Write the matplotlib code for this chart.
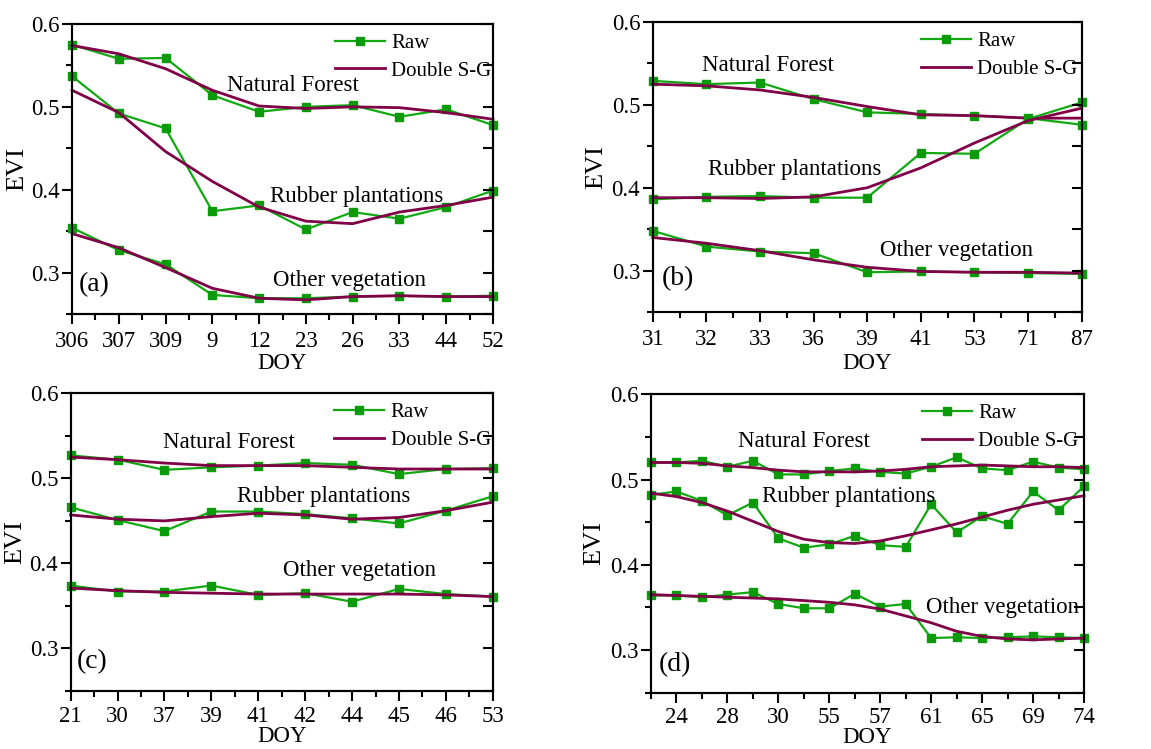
#!/usr/bin/env python
#------------------------------

import numpy as np
import matplotlib
matplotlib.use('Agg')
import matplotlib.pyplot as plt
from matplotlib.ticker import MultipleLocator, FixedLocator, FormatStrFormatter

#------------------------------
# panel (a)
doy_a = ['306', '307', '309', '9', '12', '23', '26', '33', '44', '52']
nf_raw_a = [0.575, 0.558, 0.559, 0.514, 0.494, 0.500, 0.502, 0.488, 0.497, 0.478]
nf_sg_a  = [0.574, 0.564, 0.546, 0.520, 0.501, 0.498, 0.500, 0.499, 0.493, 0.485]
rp_raw_a = [0.537, 0.492, 0.474, 0.374, 0.381, 0.352, 0.373, 0.365, 0.379, 0.399]
rp_sg_a  = [0.520, 0.493, 0.446, 0.410, 0.379, 0.362, 0.359, 0.373, 0.381, 0.391]
ov_raw_a = [0.354, 0.327, 0.310, 0.273, 0.269, 0.269, 0.271, 0.272, 0.271, 0.272]
ov_sg_a  = [0.347, 0.330, 0.306, 0.281, 0.269, 0.267, 0.271, 0.272, 0.271, 0.271]

# panel (b)
doy_b = ['31', '32', '33', '36', '39', '41', '53', '71', '87']
nf_raw_b = [0.529, 0.525, 0.527, 0.507, 0.491, 0.489, 0.487, 0.484, 0.476]
nf_sg_b  = [0.525, 0.523, 0.518, 0.509, 0.498, 0.488, 0.487, 0.484, 0.484]
rp_raw_b = [0.386, 0.389, 0.390, 0.388, 0.388, 0.442, 0.441, 0.483, 0.503]
rp_sg_b  = [0.388, 0.388, 0.387, 0.389, 0.400, 0.424, 0.454, 0.481, 0.496]
ov_raw_b = [0.348, 0.329, 0.323, 0.321, 0.298, 0.299, 0.298, 0.297, 0.296]
ov_sg_b  = [0.340, 0.333, 0.324, 0.313, 0.304, 0.299, 0.298, 0.298, 0.297]

# panel (c)
doy_c = ['21', '30', '37', '39', '41', '42', '44', '45', '46', '53']
nf_raw_c = [0.527, 0.522, 0.510, 0.513, 0.515, 0.518, 0.516, 0.505, 0.511, 0.512]
nf_sg_c  = [0.525, 0.522, 0.518, 0.515, 0.515, 0.515, 0.513, 0.511, 0.511, 0.511]
rp_raw_c = [0.466, 0.451, 0.438, 0.461, 0.461, 0.458, 0.453, 0.447, 0.462, 0.479]
rp_sg_c  = [0.457, 0.452, 0.450, 0.455, 0.459, 0.457, 0.452, 0.454, 0.462, 0.472]
ov_raw_c = [0.374, 0.367, 0.367, 0.374, 0.363, 0.365, 0.355, 0.370, 0.364, 0.361]
ov_sg_c  = [0.371, 0.368, 0.366, 0.365, 0.364, 0.364, 0.364, 0.364, 0.363, 0.361]

# panel (d): 18 acquisitions, every second one labelled
doy_d = ['', '24', '', '28', '', '30', '', '55', '', '57', '', '61', '', '65', '', '69', '', '74']
nf_raw_d = [0.520, 0.520, 0.522, 0.515, 0.522, 0.506, 0.506, 0.510, 0.513,
            0.509, 0.507, 0.515, 0.526, 0.513, 0.511, 0.521, 0.514, 0.512]
nf_sg_d  = [0.520, 0.520, 0.519, 0.516, 0.514, 0.511, 0.509, 0.509, 0.509,
            0.510, 0.512, 0.515, 0.516, 0.517, 0.516, 0.515, 0.515, 0.514]
rp_raw_d = [0.482, 0.486, 0.475, 0.458, 0.473, 0.431, 0.420, 0.424, 0.434,
            0.423, 0.421, 0.471, 0.438, 0.457, 0.448, 0.486, 0.464, 0.492]
rp_sg_d  = [0.484, 0.480, 0.473, 0.463, 0.451, 0.439, 0.430, 0.426, 0.425,
            0.428, 0.434, 0.441, 0.448, 0.456, 0.464, 0.471, 0.476, 0.481]
ov_raw_d = [0.364, 0.364, 0.362, 0.365, 0.368, 0.354, 0.349, 0.349, 0.366,
            0.351, 0.354, 0.314, 0.315, 0.314, 0.315, 0.316, 0.315, 0.314]
ov_sg_d  = [0.365, 0.364, 0.363, 0.362, 0.361, 0.360, 0.358, 0.356, 0.353,
            0.348, 0.340, 0.332, 0.322, 0.316, 0.313, 0.312, 0.313, 0.314]

#------------------------------

GREEN = '#12a812'
MAROON = '#800048'

plt.rcParams['font.family'] = 'Liberation Serif'
plt.rcParams['axes.spines.top'] = True
plt.rcParams['axes.spines.right'] = True

#------------------------------

def draw_panel(ax, doy, series, labels, tag, tagpos, xlab_y, xpad=5, major_idx=None):
    x = np.arange(len(doy))
    first = True
    for raw, sg in series:
        ax.plot(x, raw, color=GREEN, lw=1.6, marker='s', ms=5.5, mfc='#0a9a0a',
                mec='#0a9a0a', label='Raw' if first else None, clip_on=False, zorder=3)
        ax.plot(x, sg, color=MAROON, lw=2.0, label='Double S-G' if first else None,
                clip_on=False, zorder=3)
        first = False

    for txt, tx, ty in labels:
        ax.text(tx, ty, txt, fontsize=16.5, va='center', ha='left')
    ax.text(tagpos[0], tagpos[1], tag, fontsize=20, va='center', ha='left')

    ax.set_xlim(0, len(doy) - 1)
    ax.set_ylim(0.25, 0.6)

    if major_idx is None:
        ax.set_xticks(x)
        ax.set_xticklabels(doy)
        ax.xaxis.set_minor_locator(FixedLocator(x[:-1] + 0.5))
    else:
        ax.set_xticks(x[major_idx])
        ax.set_xticklabels([doy[i] for i in major_idx])
        minor = [i for i in x if i not in major_idx]
        ax.xaxis.set_minor_locator(FixedLocator(minor))

    ax.yaxis.set_major_locator(MultipleLocator(0.1))
    ax.yaxis.set_minor_locator(MultipleLocator(0.05))
    ax.yaxis.set_major_formatter(FormatStrFormatter('%.1f'))

    ax.tick_params(axis='x', which='major', direction='out', length=7, width=1.5,
                   labelsize=16.5, pad=xpad, top=False)
    ax.tick_params(axis='x', which='minor', direction='out', length=4, width=1.5, top=False)
    ax.tick_params(axis='y', which='major', direction='out', length=7, width=1.5,
                   labelsize=16.5, pad=2, right=False)
    ax.tick_params(axis='y', which='minor', direction='out', length=4, width=1.5, right=False)

    # inward ticks on the right spine
    tw = ax.twinx()
    tw.set_ylim(0.25, 0.6)
    tw.yaxis.set_major_locator(MultipleLocator(0.1))
    tw.yaxis.set_minor_locator(MultipleLocator(0.05))
    tw.tick_params(which='both', direction='in', length=7, width=1.5, labelright=False)
    for axx in (ax, tw):
        for s in axx.spines.values():
            s.set_visible(True)
            s.set_linewidth(1.5)
            s.set_color('black')

    ax.set_ylabel('EVI', fontsize=19)
    ax.yaxis.set_label_coords(-0.105, 0.5)
    ax.set_xlabel('DOY', fontsize=16.5, va='baseline')
    ax.xaxis.set_label_coords(0.5, xlab_y)

    ax.legend(loc='upper left', bbox_to_anchor=(0.625, 0.968), frameon=False,
              fontsize=15, numpoints=1, handlelength=2.4, handletextpad=0.3,
              labelspacing=0.4, borderpad=0, borderaxespad=0)
    return ax

#------------------------------

fig = plt.figure(figsize=(11.51, 7.49), dpi=100)

ax_a = fig.add_axes([0.0626, 0.5808, 0.3657, 0.3872])
ax_b = fig.add_axes([0.5671, 0.5834, 0.3727, 0.3872])
ax_c = fig.add_axes([0.0614, 0.0774, 0.3667, 0.3975])
ax_d = fig.add_axes([0.5656, 0.0752, 0.3762, 0.3984])

draw_panel(ax_a, doy_a,
           [(nf_raw_a, nf_sg_a), (rp_raw_a, rp_sg_a), (ov_raw_a, ov_sg_a)],
           [('Natural Forest', 3.31, 0.526), ('Rubber plantations', 4.23, 0.392),
            ('Other vegetation', 4.30, 0.291)],
           '(a)', (0.15, 0.286), -0.19)

draw_panel(ax_b, doy_b,
           [(nf_raw_b, nf_sg_b), (rp_raw_b, rp_sg_b), (ov_raw_b, ov_sg_b)],
           [('Natural Forest', 0.91, 0.548), ('Rubber plantations', 1.03, 0.422),
            ('Other vegetation', 4.24, 0.324)],
           '(b)', (0.16, 0.290), -0.195)

draw_panel(ax_c, doy_c,
           [(nf_raw_c, nf_sg_c), (rp_raw_c, rp_sg_c), (ov_raw_c, ov_sg_c)],
           [('Natural Forest', 1.96, 0.542), ('Rubber plantations', 3.54, 0.479),
            ('Other vegetation', 4.53, 0.392)],
           '(c)', (0.14, 0.285), -0.172, xpad=4)

draw_panel(ax_d, doy_d,
           [(nf_raw_d, nf_sg_d), (rp_raw_d, rp_sg_d), (ov_raw_d, ov_sg_d)],
           [('Natural Forest', 3.40, 0.545), ('Rubber plantations', 4.35, 0.480),
            ('Other vegetation', 10.79, 0.350)],
           '(d)', (0.29, 0.283), -0.17, xpad=3, major_idx=list(range(1, 18, 2)))

fig.savefig('out.png', dpi=100)

#------------------------------
